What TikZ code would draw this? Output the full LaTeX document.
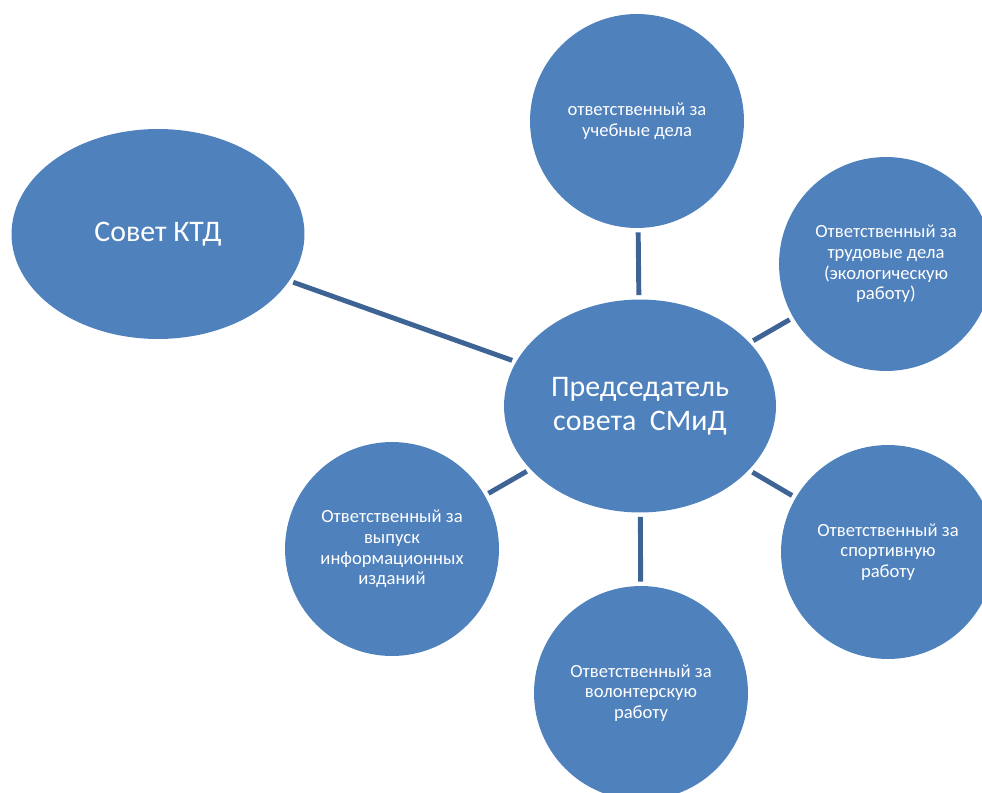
\documentclass[tikz,border=0pt]{standalone}
\usepackage{fontspec}
\setmainfont{Carlito}
\usetikzlibrary{shapes.geometric}
\definecolor{niceblue}{RGB}{79, 129, 189}
\definecolor{niceblueD}{RGB}{62, 100, 150}

\begin{document}
\begin{tikzpicture}[x = 0.02cm, y = -0.02cm,
	circ/.style = {circle, fill = niceblue, text = white, inner sep = 0pt, minimum size = 4.28cm, align = center, font = \fontsize{10.6}{11.7}\selectfont},
	oval/.style = {ellipse, fill = niceblue, text = white, inner sep = 0pt, align = center, font = \fontsize{17}{19.3}\selectfont},
	link/.style = {draw = niceblueD, line width = 2.8pt, shorten > = 0.08cm, shorten < = 0.08cm}]
			\useasboundingbox (0,0) rectangle (982,793);
			\node (a) at (640,406) [oval, minimum width = 5.44cm, minimum height = 4.26cm] {Председатель\\совета~ СМиД};
			\node (b) at (158,234) [oval, minimum width = 5.86cm, minimum height = 4.2cm] {Совет КТД};
			\node (c) at (637,121) [circ] {ответственный за\\учебные дела};
			\node (d) at (886,264) [circ] {Ответственный за\\трудовые дела\\(экологическую\\работу)};
			\node (e) at (888,552) [circ] {Ответственный за\\спортивную\\работу};
			\node (f) at (641,693) [circ] {Ответственный за\\волонтерскую\\работу};
			\node (g) at (392,549) [circ] {Ответственный за\\выпуск\\информационных\\изданий};
			\draw[link] (a) edge (b);
			\draw[link] (a) edge (c);
			\draw[link] (a) edge (d);
			\draw[link] (a) edge (e);
			\draw[link] (a) edge (f);
			\draw[link] (a) edge (g);
			\end{tikzpicture}
\end{document}
